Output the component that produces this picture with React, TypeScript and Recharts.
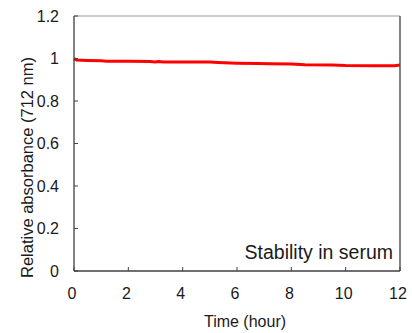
import React from 'react';
import { LineChart, Line, XAxis, YAxis, ReferenceLine, Label } from 'recharts';

const times = [0, 0.1, 0.5, 1.0, 1.2, 2.0, 2.8, 3.0, 3.1, 3.3, 4.0, 5.0, 5.3, 6.0, 6.8, 7.2, 8.0, 8.5, 9.5, 10.0, 11.0, 11.8, 12.0];
const absorbance = [0.999, 0.993, 0.991, 0.989, 0.987, 0.987, 0.986, 0.984, 0.986, 0.984, 0.984, 0.983, 0.981, 0.978, 0.976, 0.975, 0.974, 0.971, 0.969, 0.967, 0.966, 0.966, 0.969];
const xTicks = [0, 2, 4, 6, 8, 10, 12];
const yTicks = [0, 0.2, 0.4, 0.6, 0.8, 1, 1.2];
const xTitle = 'Time (hour)';
const yTitle = 'Relative absorbance (712 nm)';
const note = 'Stability in serum';

const data = times.map((t, i) => ({ t, v: absorbance[i] }));

const FONT = '"Liberation Sans", Arial, sans-serif';
const AXIS = '#404040';
const TEXT = '#1a1a1a';

const XTick = (props: any) => {
  const { x, y, payload } = props;
  return (
    <g>
      <line x1={x} x2={x} y1={y} y2={y - 4} stroke={AXIS} strokeWidth={1} />
      <text x={x - 2} y={y + 28} textAnchor="middle" fontSize={16} fontFamily={FONT} fill={TEXT}>
        {payload.value}
      </text>
    </g>
  );
};

const YTick = (props: any) => {
  const { x, y, payload } = props;
  return (
    <g>
      <line x1={x} x2={x + 4} y1={y} y2={y} stroke={AXIS} strokeWidth={1} />
      <text x={x - 15} y={y + 5.5} textAnchor="end" fontSize={16} fontFamily={FONT} fill={TEXT}>
        {payload.value}
      </text>
    </g>
  );
};

export default function App() {
  return (
    <div style={{ position: 'absolute', left: 0, top: 0, background: '#fff' }}>
      <LineChart width={412} height={333} data={data} margin={{ top: 16, right: 12, bottom: 0, left: 0 }}>
        <XAxis
          dataKey="t"
          type="number"
          domain={[0, 12]}
          ticks={xTicks}
          interval={0}
          height={62}
          tickSize={0}
          tickMargin={0}
          tickLine={false}
          tick={<XTick />}
          axisLine={{ stroke: AXIS, strokeWidth: 1.3 }}
        >
          <Label
            content={(p: any) => {
              const vb = p.viewBox || {};
              return (
                <g>
                  <text x={vb.x + vb.width / 2 + 8} y={vb.y + 56} textAnchor="middle" fontSize={16} fontFamily={FONT} fill={TEXT}>
                    {xTitle}
                  </text>
                  <text x={vb.x + vb.width - 7} y={vb.y - 12} textAnchor="end" fontSize={19.5} fontFamily={FONT} fill={TEXT}>
                    {note}
                  </text>
                </g>
              );
            }}
          />
        </XAxis>
        <YAxis
          type="number"
          domain={[0, 1.2]}
          ticks={yTicks}
          interval={0}
          width={74}
          tickSize={0}
          tickMargin={0}
          tickLine={false}
          tick={<YTick />}
          axisLine={{ stroke: AXIS, strokeWidth: 1.3 }}
        >
          <Label
            content={(p: any) => {
              const vb = p.viewBox || {};
              const cx = 33;
              const cy = vb.y + vb.height / 2 + 24;
              return (
                <text x={cx} y={cy} transform={`rotate(-90, ${cx}, ${cy})`} textAnchor="middle" fontSize={16.5} fontFamily={FONT} fill={TEXT}>
                  {yTitle}
                </text>
              );
            }}
          />
        </YAxis>
        <ReferenceLine y={1.2} stroke="#999999" strokeWidth={1} />
        <ReferenceLine x={12} stroke={AXIS} strokeWidth={1.3} />
        <Line
          type="linear"
          dataKey="v"
          stroke="#ff0000"
          strokeWidth={3}
          dot={false}
          isAnimationActive={false}
        />
      </LineChart>
    </div>
  );
}
